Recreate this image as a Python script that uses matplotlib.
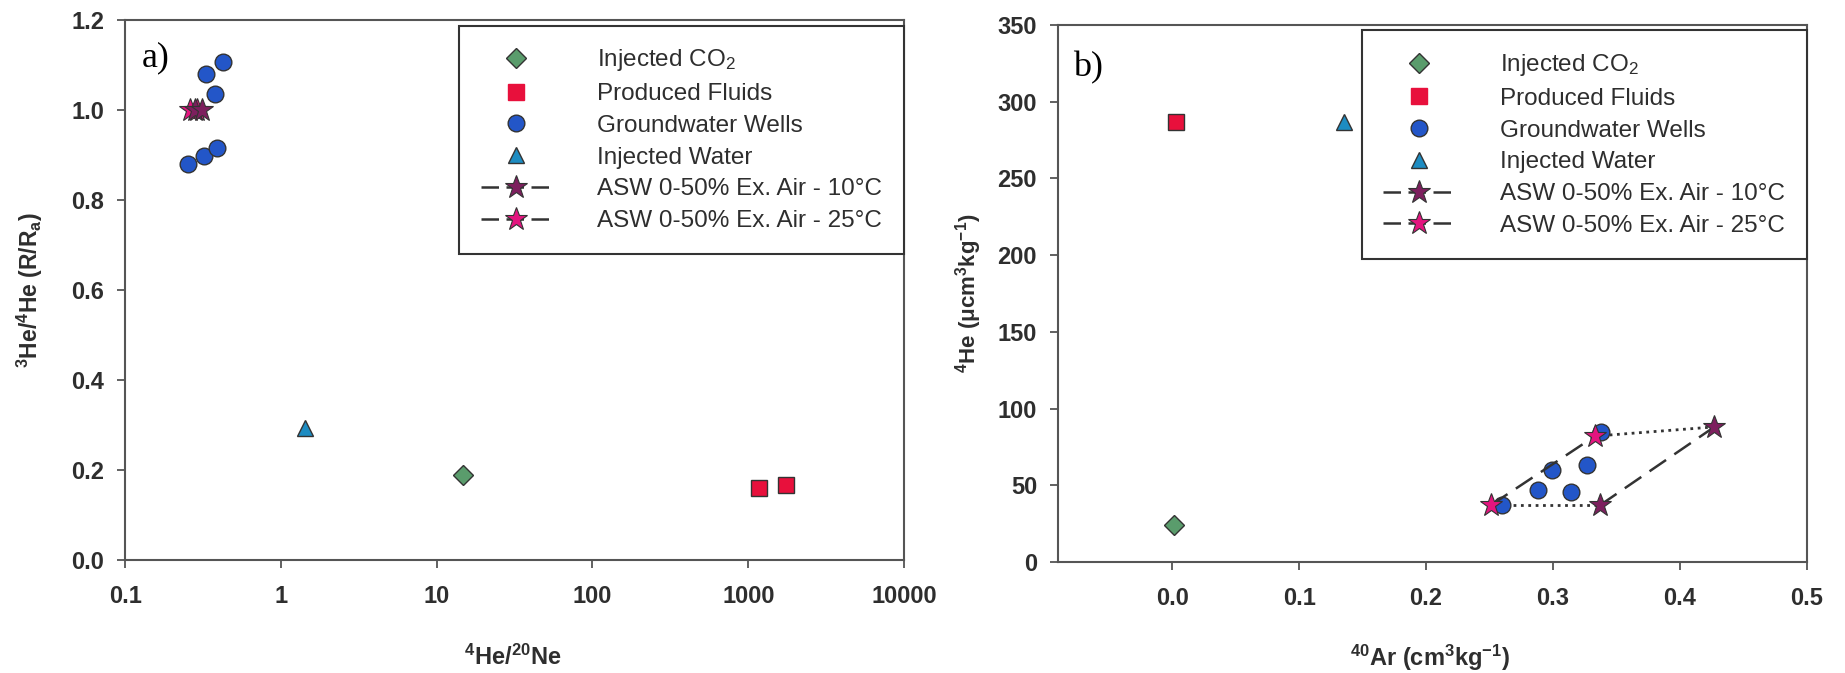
import matplotlib.pyplot as plt
from matplotlib.lines import Line2D

plt.rcParams['font.family'] = ['Liberation Sans', 'DejaVu Sans']
plt.rcParams['mathtext.fontset'] = 'custom'
plt.rcParams['mathtext.rm'] = 'Liberation Sans'
plt.rcParams['mathtext.bf'] = 'Liberation Sans:bold'
plt.rcParams['mathtext.it'] = 'Liberation Sans:italic'

# ---- panel a) data: 3He/4He vs 4He/20Ne ----
a_co2_x = [14.7]
a_co2_y = [0.188]
a_prod_x = [1180, 1745]
a_prod_y = [0.161, 0.167]
a_gw_x = [0.254, 0.323, 0.391, 0.329, 0.423, 0.375]
a_gw_y = [0.880, 0.897, 0.915, 1.080, 1.106, 1.035]
a_inj_x = [1.43]
a_inj_y = [0.294]
a_asw25_x = [0.26, 0.29]
a_asw25_y = [1.0, 1.0]
a_asw10_x = [0.28, 0.31]
a_asw10_y = [1.0, 1.0]
a_xticks = [0.1, 1, 10, 100, 1000, 10000]
a_xticklabels = ['0.1', '1', '10', '100', '1000', '10000']
a_yticks = [0.0, 0.2, 0.4, 0.6, 0.8, 1.0, 1.2]

# ---- panel b) data: 4He vs 40Ar ----
b_co2_x = [0.0015]
b_co2_y = [24]
b_prod_x = [0.003]
b_prod_y = [287]
b_gw_x = [0.260, 0.288, 0.299, 0.314, 0.327, 0.338]
b_gw_y = [37, 47, 60, 45.5, 63, 85]
b_inj_x = [0.135]
b_inj_y = [287]
b_asw25_x = [0.251, 0.333]   # 0% and 50% excess air
b_asw25_y = [37, 82]
b_asw10_x = [0.337, 0.427]
b_asw10_y = [37, 88]
b_xticks = [0.0, 0.1, 0.2, 0.3, 0.4, 0.5]
b_yticks = [0, 50, 100, 150, 200, 250, 300, 350]

c_co2 = '#5a9c6c'
c_prod = '#e8103c'
c_gw = '#2356c8'
c_inj = '#1d8cc2'
c_10 = '#7d1f5e'
c_25 = '#e3157f'
edge = '#333333'
txt = '#2e2e2e'

fig = plt.figure(figsize=(18.45, 6.73), dpi=100)
ax1 = fig.add_axes([0.0678, 0.168, 0.4222, 0.802])
ax2 = fig.add_axes([0.5734, 0.165, 0.406, 0.798])


def style(ax):
    for s in ax.spines.values():
        s.set_color('#555555')
        s.set_linewidth(1.5)
    ax.tick_params(direction='out', length=6, width=1.3, color='#555555',
                   labelsize=17, labelcolor=txt, pad=9)
    ax.tick_params(axis='x', pad=12)
    for lab in ax.get_xticklabels() + ax.get_yticklabels():
        lab.set_fontweight('bold')


def draw(ax, d, dash_lines):
    co2x, co2y, prx, pry, gwx, gwy, injx, injy, w25x, w25y, w10x, w10y = d
    ax.plot(co2x, co2y, 'D', ms=10, color=c_co2, mec=edge, mew=1, ls='none', zorder=4)
    ax.plot(prx, pry, 's', ms=11.5, color=c_prod, mec=edge, mew=1, ls='none', zorder=4)
    ax.plot(gwx, gwy, 'o', ms=12, color=c_gw, mec=edge, mew=1, ls='none', zorder=4)
    ax.plot(injx, injy, '^', ms=12, color=c_inj, mec=edge, mew=1, ls='none', zorder=4)
    ls = (0, (8, 4)) if dash_lines else 'none'
    ax.plot(w25x, w25y, ls=ls, lw=1.8, color=edge, marker='*', ms=17,
            mfc=c_25, mec=edge, mew=0.8, zorder=5)
    ax.plot(w10x, w10y, ls=ls, lw=1.8, color=edge, marker='*', ms=17,
            mfc=c_10, mec=edge, mew=0.8, zorder=5)


draw(ax1, (a_co2_x, a_co2_y, a_prod_x, a_prod_y, a_gw_x, a_gw_y, a_inj_x, a_inj_y,
           a_asw25_x, a_asw25_y, a_asw10_x, a_asw10_y), False)
ax1.set_xscale('log')
ax1.set_xlim(0.1, 10000)
ax1.set_ylim(0, 1.2)
ax1.set_xticks(a_xticks)
ax1.set_xticklabels(a_xticklabels)
ax1.minorticks_off()
ax1.set_yticks(a_yticks)
ax1.set_yticklabels([f'{v:.1f}' for v in a_yticks])
style(ax1)
ax1.set_ylabel(r'$^{\mathbf{3}}$He/$^{\mathbf{4}}$He (R/R$_{\mathbf{a}}$)',
               fontsize=16.5, fontweight='bold', color=txt, va='center')
ax1.set_xlabel(r'$^{\mathbf{4}}$He/$^{\mathbf{20}}$Ne', fontsize=17,
               fontweight='bold', color=txt, va='center')
ax1.yaxis.set_label_coords(-0.122, 0.5)
ax1.xaxis.set_label_coords(0.498, -0.18)
ax1.text(0.022, 0.93, 'a)', transform=ax1.transAxes, fontsize=26,
         family='Liberation Serif', va='center', ha='left')

draw(ax2, (b_co2_x, b_co2_y, b_prod_x, b_prod_y, b_gw_x, b_gw_y, b_inj_x, b_inj_y,
           b_asw25_x, b_asw25_y, b_asw10_x, b_asw10_y), True)
# dotted lines joining equal excess-air end members
ax2.plot([b_asw25_x[0], b_asw10_x[0]], [b_asw25_y[0], b_asw10_y[0]], ls=':',
         lw=2, color=edge, zorder=3)
ax2.plot([b_asw25_x[1], b_asw10_x[1]], [b_asw25_y[1], b_asw10_y[1]], ls=':',
         lw=2, color=edge, zorder=3)
ax2.set_xlim(-0.09, 0.5)
ax2.set_ylim(0, 350)
ax2.set_xticks(b_xticks)
ax2.set_xticklabels([f'{v:.1f}' for v in b_xticks])
ax2.set_yticks(b_yticks)
style(ax2)
ax2.set_ylabel(r'$^{\mathbf{4}}$He (μcm$^{\mathbf{3}}$kg$^{\mathbf{-1}}$)',
               fontsize=16, fontweight='bold', color=txt, va='center')
ax2.set_xlabel(r'$^{\mathbf{40}}$Ar (cm$^{\mathbf{3}}$kg$^{\mathbf{-1}}$)',
               fontsize=17, fontweight='bold', color=txt, va='center')
ax2.yaxis.set_label_coords(-0.119, 0.5)
ax2.xaxis.set_label_coords(0.497, -0.178)
ax2.text(0.02, 0.92, 'b)', transform=ax2.transAxes, fontsize=26,
         family='Liberation Serif', va='center', ha='left')

labels = ['Injected CO$_2$', 'Produced Fluids', 'Groundwater Wells', 'Injected Water',
          'ASW 0-50% Ex. Air - 10°C', 'ASW 0-50% Ex. Air - 25°C']


def handles():
    return [
        Line2D([], [], ls='none', marker='D', ms=10, color=c_co2, mec=edge, mew=1),
        Line2D([], [], ls='none', marker='s', ms=11, color=c_prod, mec=c_prod),
        Line2D([], [], ls='none', marker='o', ms=12, color=c_gw, mec=edge, mew=1),
        Line2D([], [], ls='none', marker='^', ms=12, color=c_inj, mec=edge, mew=1),
        Line2D([], [], ls=(0, (7, 3)), lw=1.8, color=edge, marker='*', ms=17,
               mfc=c_10, mec=edge, mew=0.8),
        Line2D([], [], ls=(0, (7, 3)), lw=1.8, color=edge, marker='*', ms=17,
               mfc=c_25, mec=edge, mew=0.8),
    ]


for ax in (ax1, ax2):
    leg = ax.legend(handles(), labels, loc='upper right', bbox_to_anchor=(1.0, 0.99),
                    borderaxespad=0, fontsize=17.5, frameon=True, fancybox=False,
                    edgecolor='#333333', framealpha=1, handlelength=2.9,
                    handletextpad=1.9, labelspacing=0.4, borderpad=0.9)
    leg.get_frame().set_linewidth(1.5)
    for t in leg.get_texts():
        t.set_color(txt)

fig.savefig('out.png', dpi=100, facecolor='white')
